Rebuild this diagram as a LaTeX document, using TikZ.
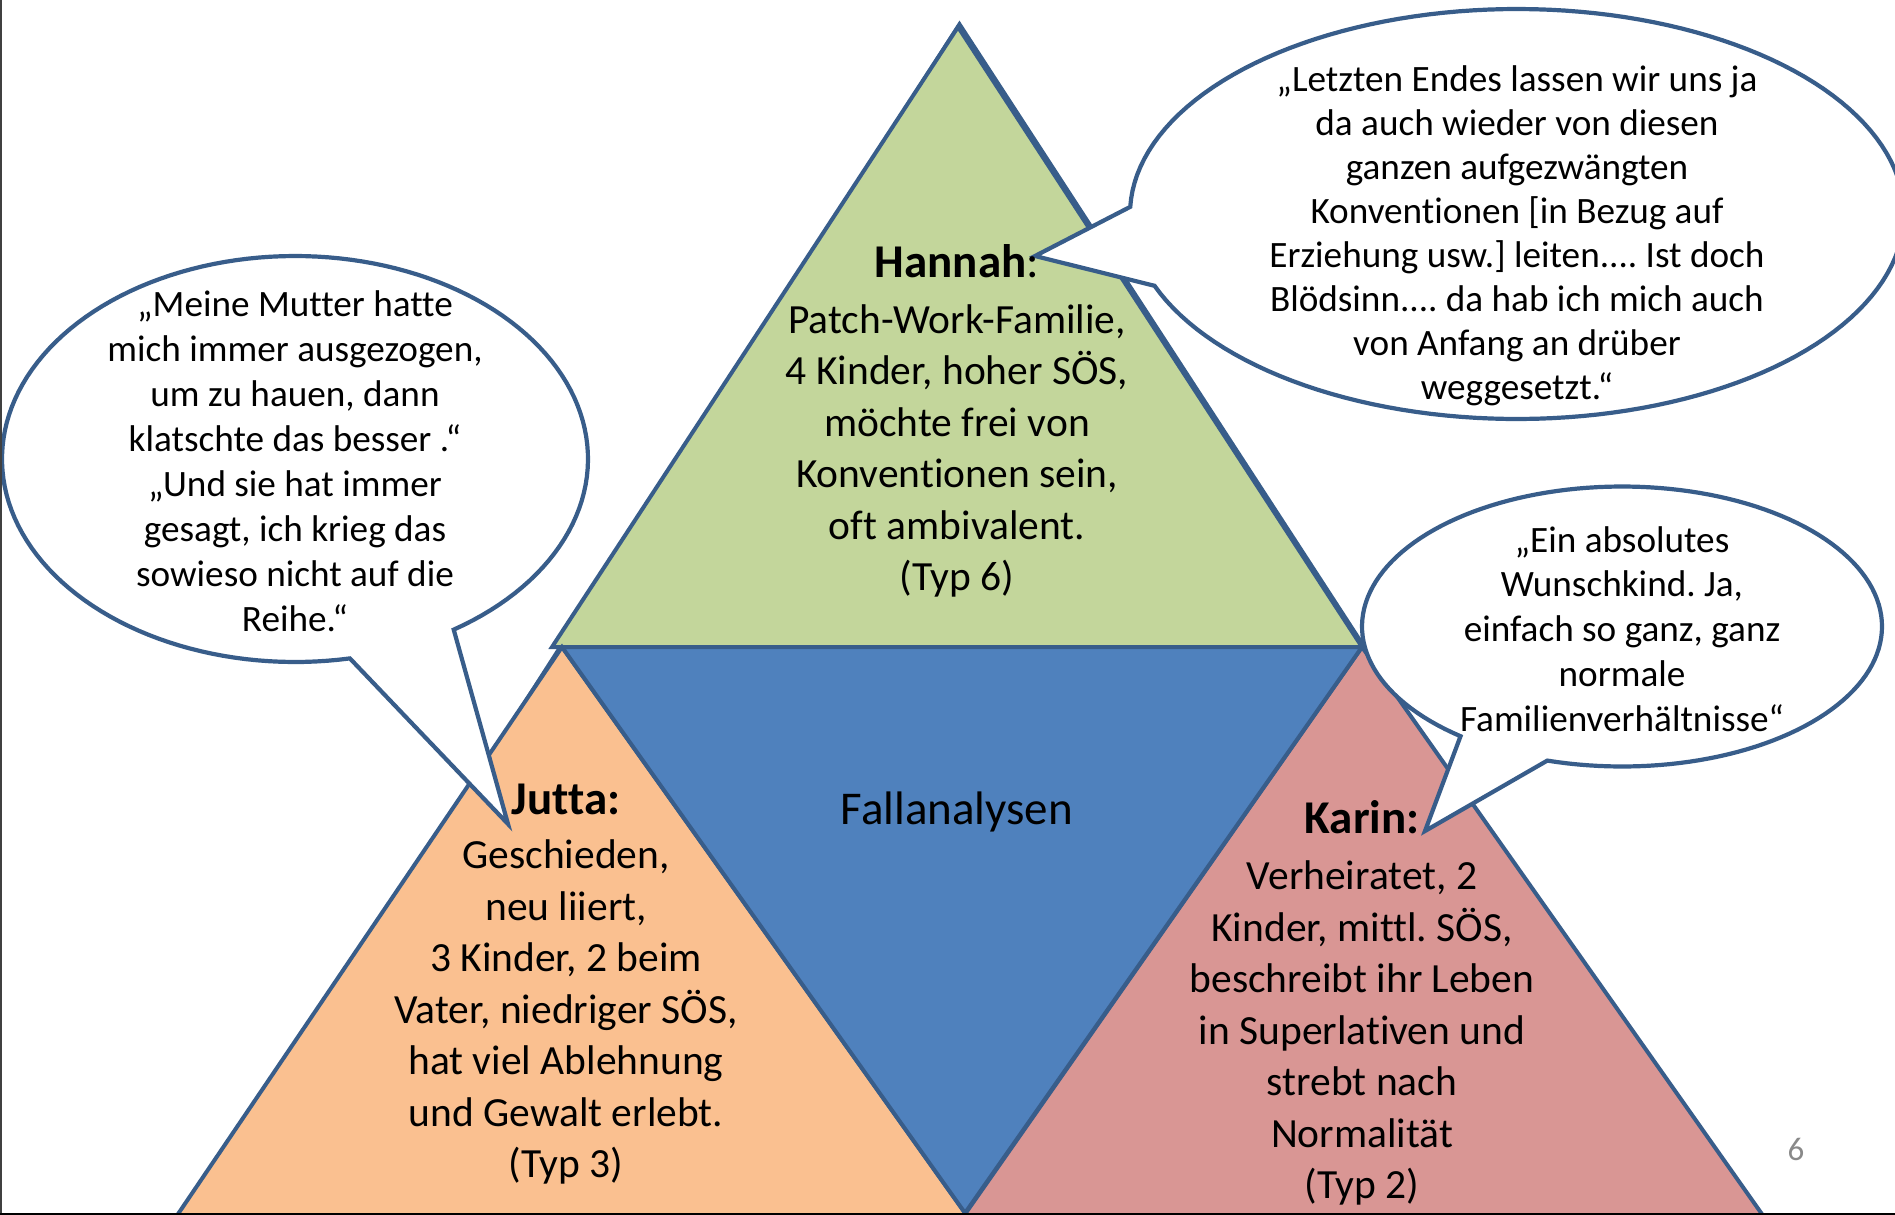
\documentclass[tikz,border=0pt]{standalone}
\usepackage{fontspec}
\setmainfont{Carlito}[Ligatures=CommonOff]
\frenchspacing
\definecolor{edge}{HTML}{385D8A}
\definecolor{tgreen}{HTML}{C3D69B}
\definecolor{tblue}{HTML}{4F81BD}
\definecolor{torange}{HTML}{FAC090}
\definecolor{tpink}{HTML}{D99694}
\definecolor{pgnum}{HTML}{898989}
\newcommand\headtxt[1]{{\fontsize{23.5}{28}\selectfont\bfseries #1}}
\begin{document}
\begin{tikzpicture}[x=0.5pt,y=-0.5pt,
  seg/.style={draw=edge, line width=2pt, line join=miter},
  bubble/.style={draw=edge, fill=white, line width=2.1pt, line join=miter},
  body/.style={align=center, inner sep=0pt, font=\fontsize{20.75}{25.75}\selectfont},
  quote/.style={align=center, inner sep=0pt, font=\fontsize{18.6}{22.4}\selectfont}]
\useasboundingbox (0,0) rectangle (1895,1215);
\clip (0,0) rectangle (1895,1215);
% background outline of the whole pyramid
\draw[edge, line width=3.5pt] (182,1240) -- (959.5,27) -- (1748,1240);
% segments
\filldraw[seg, fill=tgreen] (958,27) -- (552,647) -- (1362,647) -- cycle;
\filldraw[seg, fill=torange] (562,647) -- (176,1217) -- (968,1217) -- cycle;
\filldraw[seg, fill=tpink] (1362,647) -- (963,1217) -- (1764,1217) -- cycle;
\filldraw[seg, fill=tblue] (562,647) -- (1362,647) -- (965,1213) -- cycle;
% speech bubbles
\filldraw[bubble] plot[domain=79.2:417.2, samples=150] ({295+293*cos(\x)},{459+203*sin(\x)}) -- (508,824) -- cycle;
\filldraw[bubble] plot[domain=182:519.5, samples=150] ({1517+387*cos(\x)},{214+205*sin(\x)}) -- (1035,256) -- cycle;
\filldraw[bubble] plot[domain=128.4:466.7, samples=150] ({1622+260*cos(\x)},{626.5+140*sin(\x)}) -- (1425,831) -- cycle;
% texts
\node[body] (hannah) at (957,421) {\headtxt{Hannah}{\fontsize{23.5}{28}\selectfont:}\\[2pt]
  Patch-Work-Familie,\\ 4 Kinder, hoher SÖS,\\ möchte frei von\\ Konventionen sein,\\ oft ambivalent.\\ (Typ 6)};
\node[body] (jutta) at (566,984) {\headtxt{Jutta:}\\[1.5pt]
  Geschieden,\\ neu liiert,\\ 3 Kinder, 2 beim\\ Vater, niedriger SÖS,\\ hat viel Ablehnung\\ und Gewalt erlebt.\\ (Typ 3)};
\node[body] (karin) at (1362,1003) {\headtxt{Karin:}\\[2.5pt]
  Verheiratet, 2\\ Kinder, mittl. SÖS,\\ beschreibt ihr Leben\\ in Superlativen und\\ strebt nach\\ Normalität\\ (Typ 2)};
\node[inner sep=0pt, font=\fontsize{23.5}{28}\selectfont] (fall) at (957,812) {Fallanalysen};
\node[quote, font=\fontsize{18.6}{22.5}\selectfont] (qleft) at (295,461) {„Meine Mutter hatte\\ mich immer ausgezogen,\\ um zu hauen, dann\\ klatschte das besser .“\\ „Und sie hat immer\\ gesagt, ich krieg das\\ sowieso nicht auf die\\ Reihe.“};
\node[quote, font=\fontsize{18.6}{22}\selectfont] (qtop) at (1517,236) {„Letzten Endes lassen wir uns ja\\ da auch wieder von diesen\\ ganzen aufgezwängten\\ Konventionen [in Bezug auf\\ Erziehung usw.] leiten.... Ist doch\\ Blödsinn.... da hab ich mich auch\\ von Anfang an drüber\\ weggesetzt.“};
\node[quote] (qright) at (1622,629) {„Ein absolutes\\ Wunschkind. Ja,\\ einfach so ganz, ganz\\ normale\\ Familienverhältnisse“};
\node[inner sep=0pt, font=\fontsize{16.5}{20}\selectfont, text=pgnum] (pnum) at (1796,1149) {6};
% frame lines
\draw[black!75, line width=1pt] (1,0) -- (1,1215);
\draw[black, line width=1.25pt] (0,1213.75) -- (1895,1213.75);
\end{tikzpicture}
\end{document}
